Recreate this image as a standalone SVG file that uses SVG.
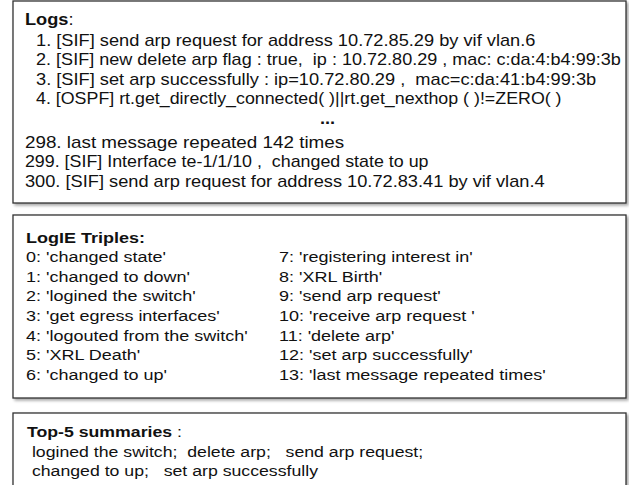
<svg xmlns="http://www.w3.org/2000/svg" width="629" height="485" viewBox="0 0 629 485">
<defs>
<filter id="sh" x="-5%" y="-5%" width="110%" height="115%">
<feGaussianBlur in="SourceAlpha" stdDeviation="1.5"/>
<feOffset dx="2" dy="2" result="b"/>
<feComponentTransfer><feFuncA type="linear" slope="0.35"/></feComponentTransfer>
<feMerge><feMergeNode/><feMergeNode in="SourceGraphic"/></feMerge>
</filter>
</defs>
<style>
.box{fill:#fff;stroke:#333;stroke-width:1.3}
text{font-family:"Liberation Sans",Arial,Helvetica,sans-serif;fill:#111;white-space:pre}
.t{font-size:16px}
.s{font-size:15px}
.b{font-weight:bold}
</style>
<rect width="629" height="485" fill="#fff"/>
<g id="logs">
<rect class="box" x="13" y="1" width="613" height="202" filter="url(#sh)"/>
<g transform="scale(1.14 1)">
<text class="t" x="21.9" y="25"><tspan class="b">Logs</tspan>:</text>
<text class="t" x="31.6" y="46">1. [SIF] send arp request for address 10.72.85.29 by vif vlan.6</text>
<text class="t" x="31.6" y="65.5" textLength="513" lengthAdjust="spacingAndGlyphs">2. [SIF] new delete arp flag : true,  ip : 10.72.80.29 , mac: c:da:4:b4:99:3b</text>
<text class="t" x="31.6" y="85">3. [SIF] set arp successfully : ip=10.72.80.29 ,  mac=c:da:41:b4:99:3b</text>
<text class="t" x="31.6" y="104.5" textLength="461" lengthAdjust="spacingAndGlyphs">4. [OSPF] rt.get_directly_connected( )||rt.get_nexthop ( )!=ZERO( )</text>
<text class="t b" x="280.7" y="124">...</text>
<text class="t" x="21.9" y="148" textLength="280" lengthAdjust="spacingAndGlyphs">298. last message repeated 142 times</text>
<text class="t" x="21.9" y="167.5" textLength="354" lengthAdjust="spacingAndGlyphs">299. [SIF] Interface te-1/1/10 ,  changed state to up</text>
<text class="t" x="21.9" y="187">300. [SIF] send arp request for address 10.72.83.41 by vif vlan.4</text>
</g>
</g>
<g id="triples">
<rect class="box" x="13" y="215" width="613" height="183" filter="url(#sh)"/>
<g transform="scale(1.2 1)">
<text class="s b" x="21.7" y="243">LogIE Triples:</text>
<text class="s" x="21.7" y="262">0: 'changed state'</text>
<text class="s" x="21.7" y="281.7">1: 'changed to down'</text>
<text class="s" x="21.7" y="301.4">2: 'logined the switch'</text>
<text class="s" x="21.7" y="321.1">3: 'get egress interfaces'</text>
<text class="s" x="21.7" y="340.8">4: 'logouted from the switch'</text>
<text class="s" x="21.7" y="360.5">5: 'XRL Death'</text>
<text class="s" x="21.7" y="380.2">6: 'changed to up'</text>
<text class="s" x="232.5" y="262">7: 'registering interest in'</text>
<text class="s" x="232.5" y="281.7">8: 'XRL Birth'</text>
<text class="s" x="232.5" y="301.4">9: 'send arp request'</text>
<text class="s" x="232.5" y="321.1">10: 'receive arp request '</text>
<text class="s" x="232.5" y="340.8">11: 'delete arp'</text>
<text class="s" x="232.5" y="360.5">12: 'set arp successfully'</text>
<text class="s" x="232.5" y="380.2">13: 'last message repeated times'</text>
</g>
</g>
<g id="summaries">
<rect class="box" x="13" y="413" width="613" height="80" filter="url(#sh)"/>
<g transform="scale(1.18 1)">
<text class="s" x="22.9" y="437"><tspan class="b">Top-5 summaries</tspan> :</text>
<text class="s" x="22.9" y="457"> logined the switch;  delete arp;   send arp request;</text>
<text class="s" x="22.9" y="476"> changed to up;   set arp successfully</text>
</g>
</g>
</svg>
